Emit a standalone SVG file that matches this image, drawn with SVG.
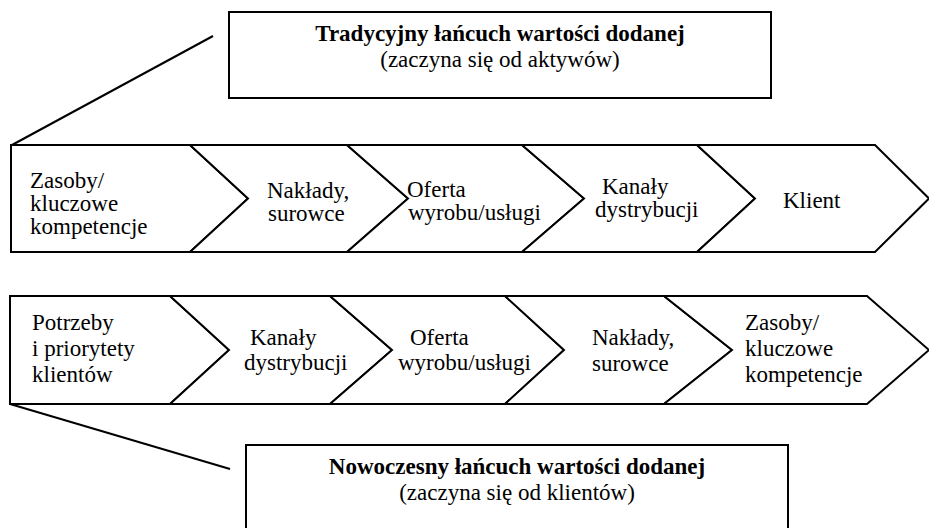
<svg xmlns="http://www.w3.org/2000/svg" width="929" height="528" viewBox="0 0 929 528">
<style>
.s{fill:#fff;stroke:#000;stroke-width:2;stroke-linejoin:miter}
.ln{fill:none;stroke:#000;stroke-width:2}
text{font-family:"Liberation Serif","Times New Roman",serif;font-size:23px;fill:#000}
.b{font-weight:bold}
.m{text-anchor:middle}
</style>
<rect width="929" height="528" fill="#fff"/>
<g id="connectors">
<line class="ln" x1="213" y1="36" x2="12" y2="145"/>
<line class="ln" x1="10" y1="404" x2="230" y2="469"/>
</g>
<g id="title-top">
<rect class="s" x="229" y="12" width="542" height="86"/>
<text class="b m" x="500" y="41">Tradycyjny łańcuch wartości dodanej</text>
<text class="m" x="500" y="67">(zaczyna się od aktywów)</text>
</g>
<g id="title-bottom">
<rect class="s" x="246" y="445" width="542" height="95"/>
<text class="b m" x="517" y="474">Nowoczesny łańcuch wartości dodanej</text>
<text class="m" x="517" y="500">(zaczyna się od klientów)</text>
</g>
<g id="t1">
<polygon class="s" points="11,145 190,145 248,198.5 190,252 11,252"/>
<text x="30" y="188">Zasoby/</text>
<text x="30" y="211">kluczowe</text>
<text x="30" y="234">kompetencje</text>
</g>
<g id="t2">
<polygon class="s" points="190,145 347,145 408,198.5 347,252 190,252 248,198.5"/>
<text x="267" y="198">Nakłady,</text>
<text x="268" y="221">surowce</text>
</g>
<g id="t3">
<polygon class="s" points="347,145 522,145 584,198.5 522,252 347,252 408,198.5"/>
<text x="407" y="197">Oferta</text>
<text x="408" y="220">wyrobu/usługi</text>
</g>
<g id="t4">
<polygon class="s" points="522,145 697,145 755,198.5 697,252 522,252 584,198.5"/>
<text x="602" y="194">Kanały</text>
<text x="595" y="217">dystrybucji</text>
</g>
<g id="t5">
<polygon class="s" points="697,145 875,145 929,198.5 875,252 697,252 755,198.5"/>
<text x="783" y="208">Klient</text>
</g>
<g id="b1">
<polygon class="s" points="10,296 170,296 229,350 170,404 10,404"/>
<text x="32" y="330">Potrzeby</text>
<text x="32" y="356">i priorytety</text>
<text x="32" y="382">klientów</text>
</g>
<g id="b2">
<polygon class="s" points="170,296 330,296 392,350 330,404 170,404 229,350"/>
<text x="250" y="345">Kanały</text>
<text x="244" y="370">dystrybucji</text>
</g>
<g id="b3">
<polygon class="s" points="330,296 505,296 564,350 505,404 330,404 392,350"/>
<text x="410" y="345">Oferta</text>
<text x="398" y="370">wyrobu/usługi</text>
</g>
<g id="b4">
<polygon class="s" points="505,296 664,296 732,350 664,404 505,404 564,350"/>
<text x="592" y="345">Nakłady,</text>
<text x="592" y="371">surowce</text>
</g>
<g id="b5">
<polygon class="s" points="664,296 867,296 929,350 867,404 664,404 732,350"/>
<text x="745" y="330">Zasoby/</text>
<text x="745" y="356">kluczowe</text>
<text x="745" y="382">kompetencje</text>
</g>
</svg>
